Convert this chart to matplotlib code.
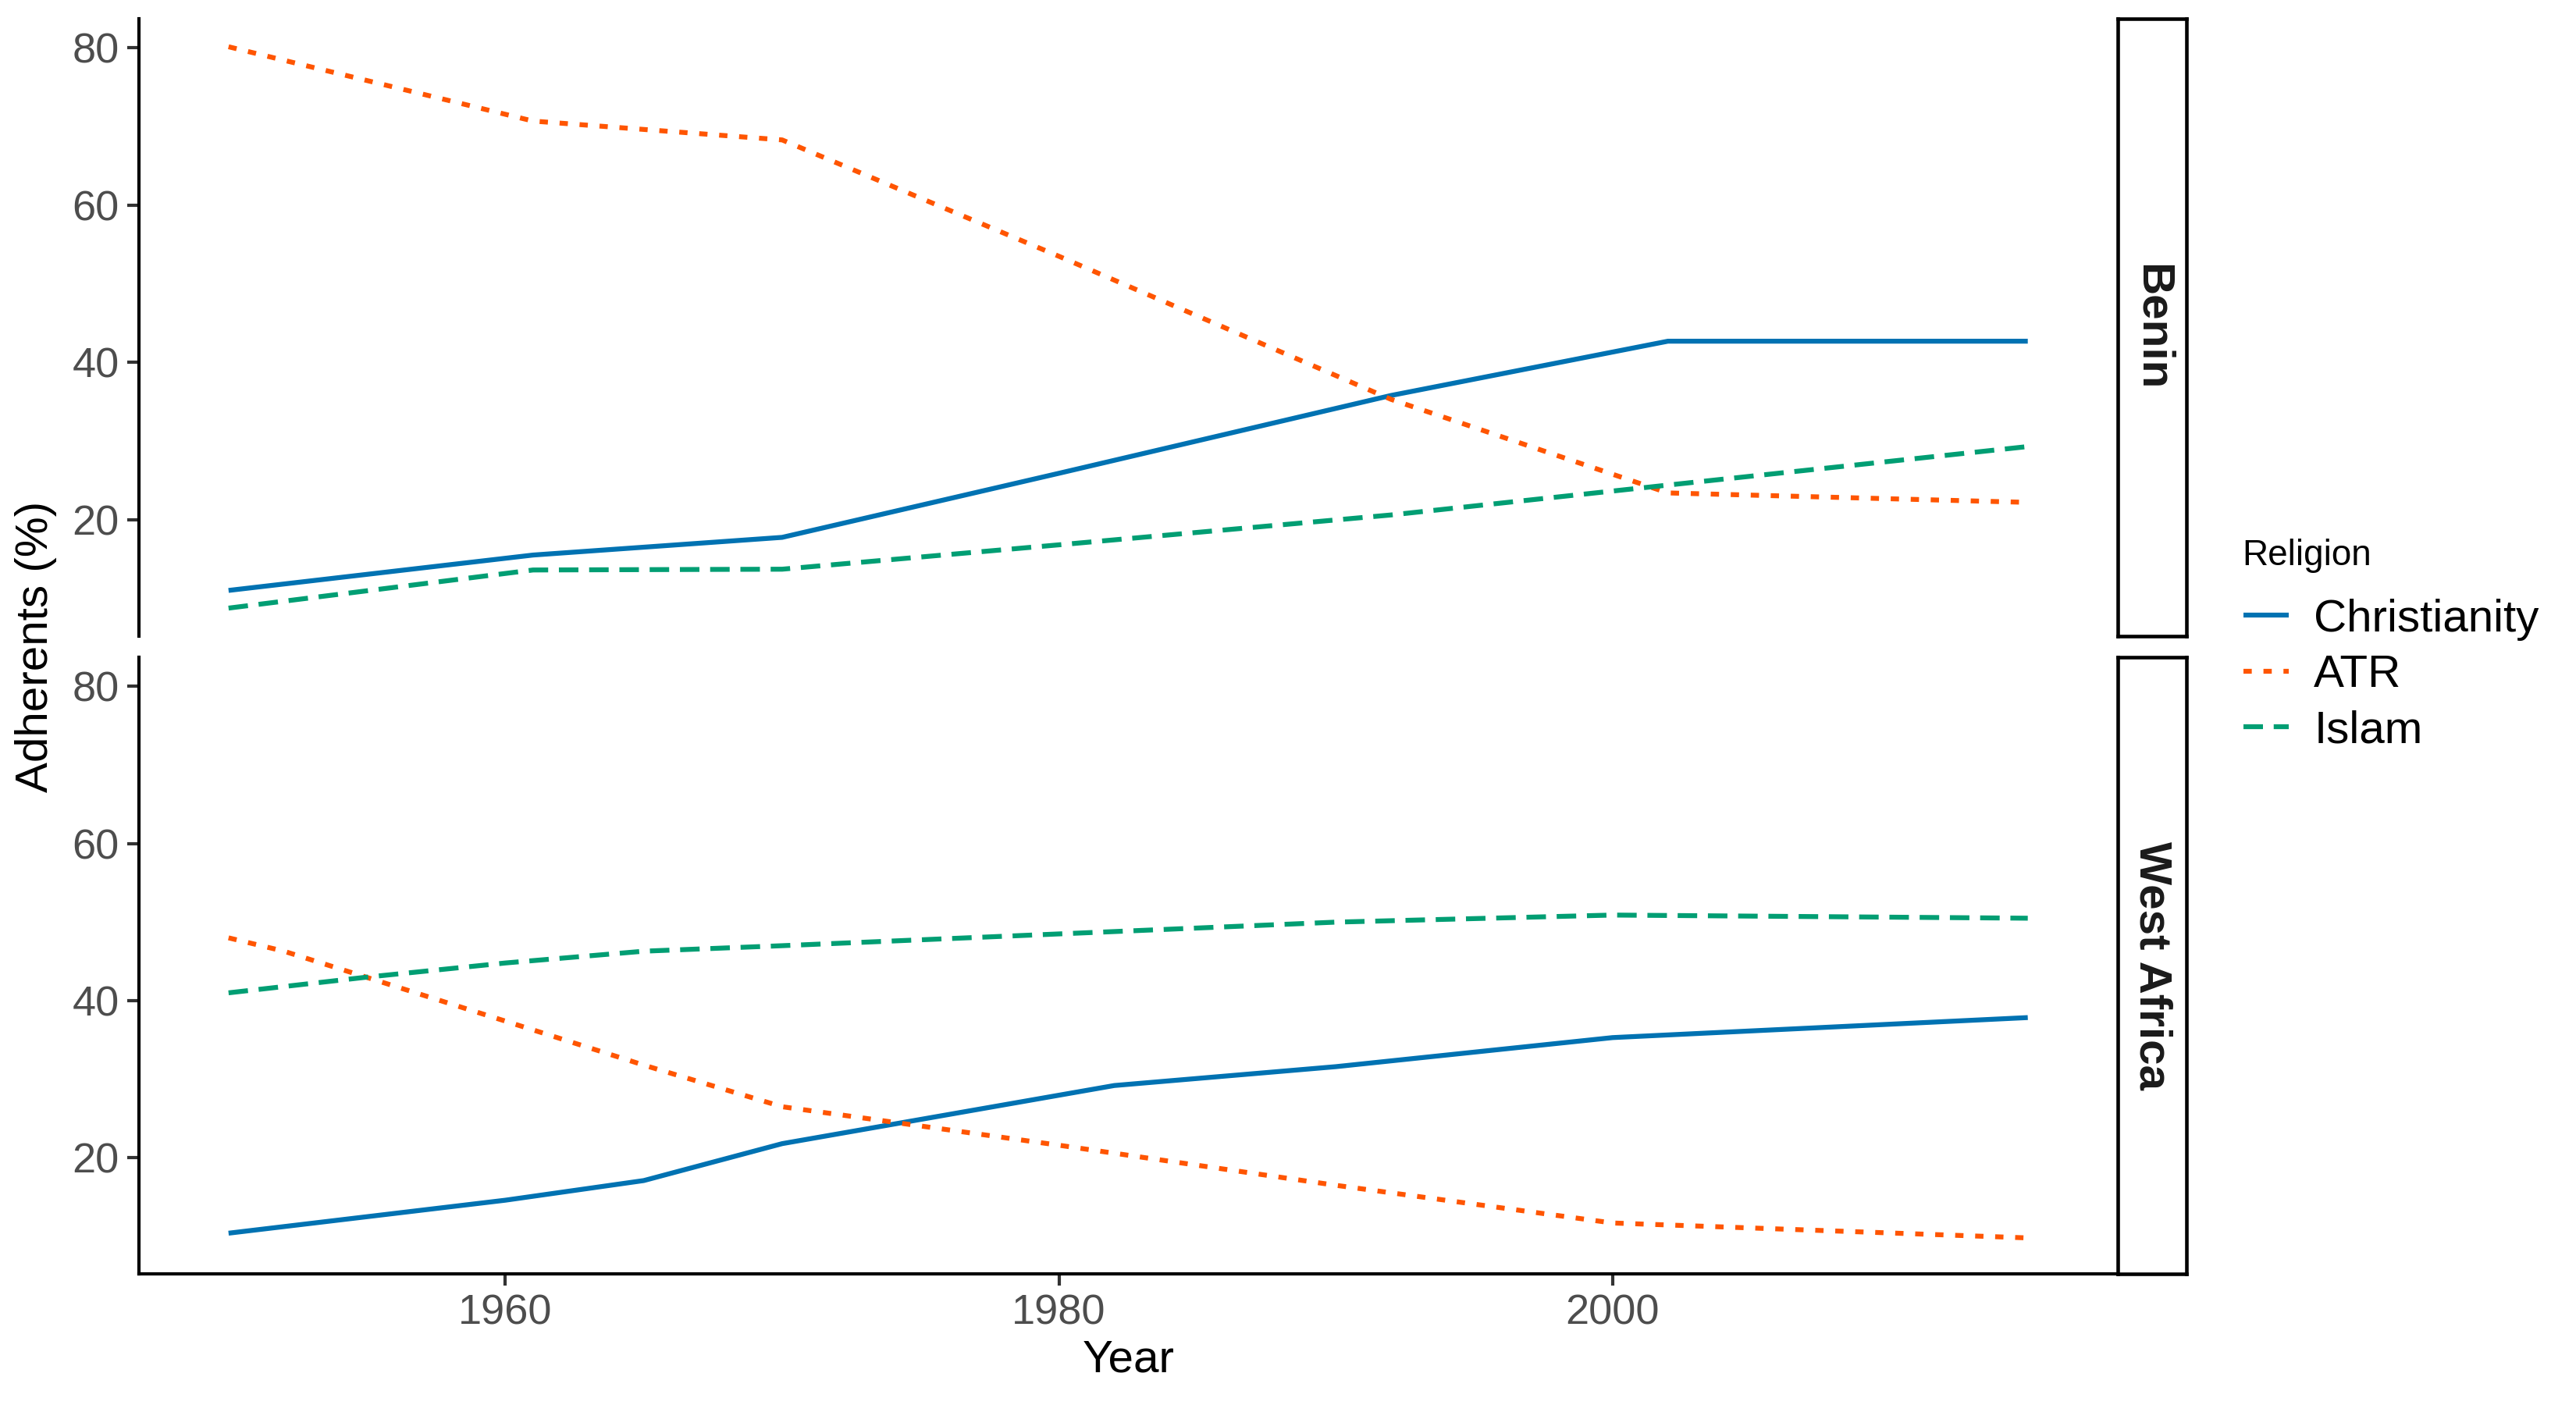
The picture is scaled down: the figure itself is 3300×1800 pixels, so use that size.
import matplotlib
matplotlib.use("Agg")
import matplotlib.pyplot as plt
import numpy as np

plt.rcParams['font.family'] = ['Liberation Sans', 'DejaVu Sans']

# ---------------- data ----------------
religions = ["Christianity", "ATR", "Islam"]
regions = ["Benin", "West Africa"]

benin_years = [1950, 1961, 1970, 1980, 1992, 2002, 2015]
benin_christianity = [11.0, 15.5, 17.75, 25.9, 35.8, 42.7, 42.7]
benin_atr = [80.15, 70.7, 68.3, 53.5, 35.3, 23.4, 22.2]
benin_islam = [8.75, 13.6, 13.7, 16.8, 20.6, 24.4, 29.3]

wa_christianity_years = [1950, 1960, 1965, 1970, 1982, 1990, 2000, 2015]
wa_christianity = [10.4, 14.6, 17.1, 21.8, 29.2, 31.6, 35.3, 37.85]
wa_atr_years = [1950, 1952, 1960, 1965, 1970, 1980, 1990, 2000, 2015]
wa_atr = [48.0, 46.3, 37.4, 31.8, 26.5, 21.6, 16.5, 11.7, 9.8]
wa_islam_years = [1950, 1955, 1960, 1965, 1970, 1980, 1990, 2000, 2015]
wa_islam = [41.0, 43.0, 44.8, 46.3, 47.0, 48.5, 50.0, 50.9, 50.5]

x_ticks = [1960, 1980, 2000]
y_ticks = [20, 40, 60, 80]

# ---------------- styles ----------------
colors = {"Christianity": "#0072B2", "ATR": "#FF5500", "Islam": "#009E73"}
dashes = {"Christianity": None, "ATR": (1.7, 2.4), "Islam": (4.0, 2.2)}
LW = 1.5

panel_data = {
    "Benin": {
        "Christianity": (benin_years, benin_christianity),
        "ATR": (benin_years, benin_atr),
        "Islam": (benin_years, benin_islam),
    },
    "West Africa": {
        "Christianity": (wa_christianity_years, wa_christianity),
        "ATR": (wa_atr_years, wa_atr),
        "Islam": (wa_islam_years, wa_islam),
    },
}

# shared limits with ggplot-like 5% expansion
all_x = benin_years + wa_christianity_years + wa_atr_years + wa_islam_years
all_y = (benin_christianity + benin_atr + benin_islam + wa_christianity + wa_atr + wa_islam)
xmin, xmax = min(all_x), max(all_x)
ymin, ymax = min(all_y), max(all_y)
xpad = (xmax - xmin) * 0.05
ypad = (ymax - ymin) * 0.05

fig = plt.figure(figsize=(11, 6), dpi=300)

L, R = 0.0538, 0.8221
panels = {
    "Benin": (0.5472, 0.9867),
    "West Africa": (0.0931, 0.5322),
}
strip_w = 0.0267

tick_color = "#4D4D4D"
handles = []
for i, region in enumerate(regions):
    b, t = panels[region]
    ax = fig.add_axes([L, b, R - L, t - b])
    for rel in religions:
        xs, ys = panel_data[region][rel]
        ln, = ax.plot(xs, ys, color=colors[rel], lw=LW, label=rel,
                      solid_capstyle='butt', dash_capstyle='butt')
        if dashes[rel] is not None:
            ln.set_dashes(dashes[rel])
        if i == 0:
            handles.append(ln)
    ax.set_xlim(xmin - xpad, xmax + xpad)
    ax.set_ylim(ymin - ypad, ymax + ypad)
    ax.set_yticks(y_ticks)
    ax.set_xticks(x_ticks)
    for s in ["top", "right"]:
        ax.spines[s].set_visible(False)
    ax.spines["left"].set_linewidth(1.0)
    ax.spines["bottom"].set_linewidth(1.0)
    ax.tick_params(axis='both', labelsize=13, labelcolor=tick_color,
                   length=3.5, width=1.0, color="#333333", pad=2.5)
    if region == "Benin":
        ax.spines["bottom"].set_visible(False)
        ax.tick_params(axis='x', bottom=False, labelbottom=False)
    # strip
    sax = fig.add_axes([R, b, strip_w, t - b])
    sax.set_xticks([])
    sax.set_yticks([])
    for s in sax.spines.values():
        s.set_linewidth(1.1)
        s.set_color("black")
    sax.set_facecolor("white")
    sax.text(0.5, 0.5, region, rotation=-90, ha='center', va='center',
             fontsize=14, fontweight='bold', color="#1A1A1A",
             transform=sax.transAxes)

fig.text(0.0139, 0.5400, "Adherents (%)", rotation=90, ha='center', va='center',
         fontsize=14, color='black')
fig.text(0.438, 0.0317, "Year", ha='center', va='center', fontsize=14, color='black')

# legend title placed separately, entries in a legend
fig.text(0.8705, 0.6047, "Religion", ha='left', va='center', fontsize=11, color='black')
leg = fig.legend(handles, religions, loc='center left', bbox_to_anchor=(0.8709, 0.5193),
                 frameon=False, fontsize=14,
                 handlelength=1.0, handletextpad=0.55, labelspacing=0.3,
                 borderpad=0.0, borderaxespad=0.0)

fig.savefig("out.png", dpi=300, facecolor='white')
